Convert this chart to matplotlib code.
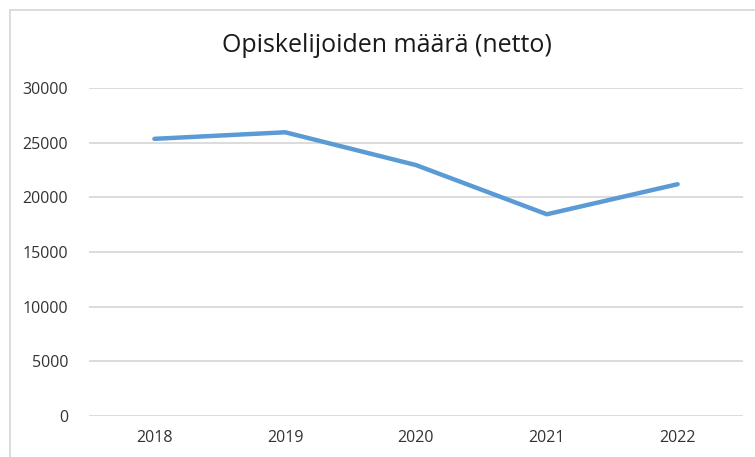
import numpy as np
import matplotlib.pyplot as plt
from matplotlib.lines import Line2D

vuodet = ["2018", "2019", "2020", "2021", "2022"]
opiskelijat = [25350, 25950, 22950, 18450, 21200]
y_ticks = [0, 5000, 10000, 15000, 20000, 25000, 30000]

plt.rcParams['font.family'] = ['Open Sans', 'DejaVu Sans']

fig = plt.figure(figsize=(7.55, 4.57), dpi=100)
W, H = 755, 457
ax = fig.add_axes([89 / W, 1 - 416 / H, (743 - 89) / W, (416 - 88) / H])

x = np.arange(len(vuodet))
ax.plot(x, opiskelijat, color='#5B9BD5', linewidth=3.2, solid_capstyle='round',
        solid_joinstyle='round', zorder=3)

ax.set_xlim(-0.5, len(vuodet) - 0.5)
ax.set_ylim(0, 30000)
ax.set_yticks(y_ticks)
ax.set_yticklabels([str(v) for v in y_ticks])
ax.set_xticks(x)
ax.set_xticklabels(vuodet)
ax.tick_params(axis='both', length=0, labelsize=11.5, colors='#333333')
ax.tick_params(axis='y', pad=15)
ax.tick_params(axis='x', pad=10)
ax.grid(axis='y', color='#D9D9D9', linewidth=1.3)
ax.set_axisbelow(True)
for s in ax.spines.values():
    s.set_visible(False)

fig.text(387 / W, 1 - 46 / H, "Opiskelijoiden määrä (netto)", ha='center', va='center',
         fontsize=18, color='#1a1a1a')

# chart border (cropped at right/bottom)
fig.add_artist(Line2D([10 / W, 1], [1 - 10 / H, 1 - 10 / H], color='#D9D9D9', linewidth=1.3,
                      transform=fig.transFigure))
fig.add_artist(Line2D([10 / W, 10 / W], [1 - 10 / H, 0], color='#D9D9D9', linewidth=1.3,
                      transform=fig.transFigure))

fig.savefig('out.png', dpi=100)
